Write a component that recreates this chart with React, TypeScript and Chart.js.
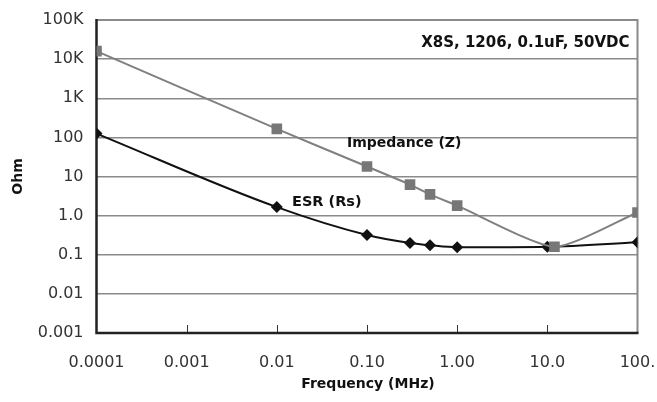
import React, { useEffect, useRef } from "react";
import { Chart, registerables } from "chart.js";

Chart.register(...registerables);

const impedanceFreq = [0.0001, 0.01, 0.1, 0.3, 0.5, 1, 12, 100];
const impedanceOhm = [16000, 165, 18, 6.2, 3.5, 1.8, 0.16, 1.2];
const esrFreq = [0.0001, 0.01, 0.1, 0.3, 0.5, 1, 10, 100];
const esrOhm = [125, 1.65, 0.32, 0.2, 0.175, 0.155, 0.16, 0.21];

const xTickValues = [0.0001, 0.001, 0.01, 0.1, 1, 10, 100];
const xTickLabels = ["0.0001", "0.001", "0.01", "0.10", "1.00", "10.0", "100."];
const yTickValues = [0.001, 0.01, 0.1, 1, 10, 100, 1000, 10000, 100000];
const yTickLabels = ["0.001", "0.01", "0.1", "1.0", "10", "100", "1K", "10K", "100K"];

const chartTitle = "X8S, 1206, 0.1uF, 50VDC";
const impedanceLabel = "Impedance (Z)";
const esrLabel = "ESR (Rs)";
const xTitle = "Frequency (MHz)";
const yTitle = "Ohm";

const FONT = "'DejaVu Sans', sans-serif";

const framePlugin = {
  id: "frame",
  beforeDatasetsDraw(chart: any) {
    const { ctx, chartArea: a, scales } = chart;
    ctx.save();
    ctx.strokeStyle = "#333";
    ctx.lineWidth = 1;
    xTickValues.slice(1, -1).forEach((v) => {
      const px = Math.round(scales.x.getPixelForValue(v)) + 0.5;
      ctx.beginPath();
      ctx.moveTo(px, a.bottom);
      ctx.lineTo(px, a.bottom - 8);
      ctx.stroke();
    });
    ctx.strokeStyle = "#8a8a8a";
    ctx.lineWidth = 2;
    ctx.beginPath();
    ctx.moveTo(a.left, a.top);
    ctx.lineTo(a.right, a.top);
    ctx.lineTo(a.right, a.bottom);
    ctx.stroke();
    ctx.strokeStyle = "#222";
    ctx.lineWidth = 2.5;
    ctx.beginPath();
    ctx.moveTo(a.left, a.top - 1);
    ctx.lineTo(a.left, a.bottom);
    ctx.lineTo(a.right + 1, a.bottom);
    ctx.stroke();
    ctx.restore();
  },
  afterDraw(chart: any) {
    const { ctx, chartArea: a } = chart;
    ctx.save();
    ctx.fillStyle = "#111";
    ctx.textBaseline = "middle";
    ctx.font = `bold 15px ${FONT}`;
    ctx.textAlign = "right";
    ctx.fillText(chartTitle, a.right - 8, 43);
    ctx.textAlign = "left";
    ctx.font = `bold 14px ${FONT}`;
    ctx.fillText(impedanceLabel, 347, 143);
    ctx.font = `bold 14.5px ${FONT}`;
    ctx.fillText(esrLabel, 292, 202);
    ctx.textAlign = "center";
    ctx.font = `bold 14px ${FONT}`;
    ctx.fillText(xTitle, (a.left + a.right) / 2 + 1, 384);
    ctx.translate(18, (a.top + a.bottom) / 2);
    ctx.rotate(-Math.PI / 2);
    ctx.fillText(yTitle, 0, 0);
    ctx.restore();
  },
};

export default function App() {
  const canvasRef = useRef<HTMLCanvasElement>(null);

  useEffect(() => {
    document.body.style.margin = "0";
    const canvas = canvasRef.current;
    if (!canvas) return;
    const chart = new Chart(canvas, {
      type: "line",
      data: {
        datasets: [
          {
            label: impedanceLabel,
            data: impedanceFreq.map((f, i) => ({ x: f, y: impedanceOhm[i] })),
            borderColor: "#808080",
            backgroundColor: "#777777",
            borderWidth: 2,
            pointStyle: "rect",
            pointRadius: 7.5,
            pointBorderWidth: 0,
            tension: 0.2,
          },
          {
            label: esrLabel,
            data: esrFreq.map((f, i) => ({ x: f, y: esrOhm[i] })),
            borderColor: "#111",
            backgroundColor: "#111",
            borderWidth: 2,
            pointStyle: "rectRot",
            pointRadius: 6,
            pointBorderWidth: 0,
            cubicInterpolationMode: "monotone",
          },
        ],
      },
      plugins: [framePlugin],
      options: {
        animation: false,
        responsive: false,
        devicePixelRatio: 1,
        layout: { padding: { top: 20, right: 19.5, left: 0, bottom: 0 } },
        plugins: {
          legend: { display: false },
          tooltip: { enabled: false },
        },
        scales: {
          x: {
            type: "logarithmic",
            min: 0.0001,
            max: 100,
            afterBuildTicks: (scale: any) => {
              scale.ticks = xTickValues.map((v) => ({ value: v }));
            },
            afterFit: (scale: any) => {
              scale.height = 69;
              scale.paddingLeft = 0;
              scale.paddingRight = 0;
            },
            grid: { display: false },
            border: { display: false },
            ticks: {
              autoSkip: false,
              maxRotation: 0,
              padding: 12,
              color: "#333",
              font: { family: FONT, size: 16 },
              callback: (_v: any, i: number) => xTickLabels[i],
            },
          },
          y: {
            type: "logarithmic",
            min: 0.001,
            max: 100000,
            afterBuildTicks: (scale: any) => {
              scale.ticks = yTickValues.map((v) => ({ value: v }));
            },
            afterFit: (scale: any) => {
              scale.width = 96.5;
              scale.paddingTop = 0;
              scale.paddingBottom = 0;
            },
            grid: { color: "#8a8a8a", lineWidth: 1.5, drawTicks: false },
            border: { display: false },
            ticks: {
              autoSkip: false,
              padding: 13,
              color: "#333",
              font: { family: FONT, size: 16 },
              callback: (_v: any, i: number) => yTickLabels[i],
            },
          },
        },
      },
    } as any);
    return () => chart.destroy();
  }, []);

  return (
    <div style={{ position: "fixed", left: 0, top: 0, width: 657, height: 402, background: "#fff" }}>
      <canvas ref={canvasRef} width={657} height={402} style={{ width: 657, height: 402 }} />
    </div>
  );
}
